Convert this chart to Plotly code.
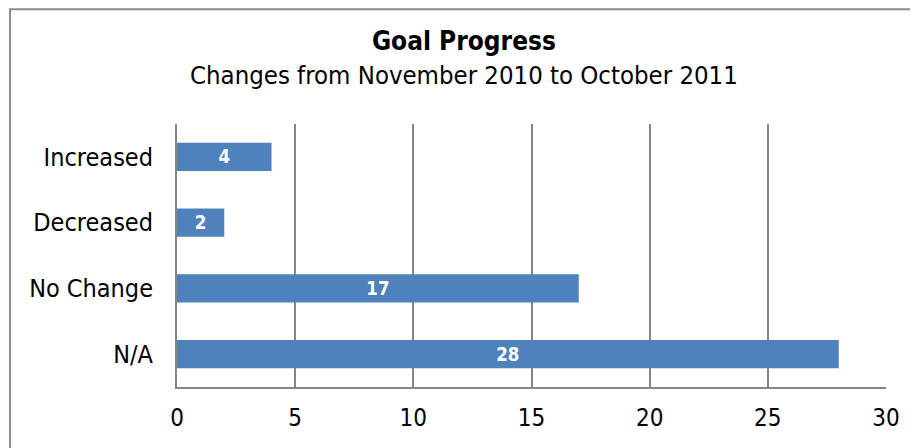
import plotly.graph_objects as go

categories = ["N/A", "No Change", "Decreased", "Increased"]
counts = [28, 17, 2, 4]
x_ticks = [0, 5, 10, 15, 20, 25, 30]

FONT = "DejaVu Sans Condensed, DejaVu Sans, sans-serif"
GRID = "#868686"

fig = go.Figure()
fig.add_trace(go.Bar(
    y=categories, x=counts, orientation="h",
    marker=dict(color="#4F81BD", line=dict(width=0)),
    text=[str(c) for c in counts], textposition="inside",
    insidetextanchor="middle", textangle=0,
    textfont=dict(color="white", size=20, family=FONT, weight="bold"),
    width=0.43,
))

# outer chart border (figure sits 8px in from the page corner)
fig.add_shape(type="rect", xref="paper", yref="paper",
              x0=-0.2355, x1=1.2, y0=-0.4, y1=1.436,
              line=dict(color="#8c8c8c", width=2), fillcolor="rgba(0,0,0,0)")

fig.update_layout(
    width=910, height=440,
    margin=dict(l=169, r=32, t=116, b=61),
    paper_bgcolor="white", plot_bgcolor="white",
    showlegend=False,
    font=dict(family=FONT, color="black"),
    title=dict(
        text="<b>Goal Progress</b><br><span style='font-size:25.5px'>Changes from November 2010 to October 2011</span>",
        x=0.501, xanchor="center", xref="container",
        y=0.905, yanchor="top", yref="container",
        font=dict(size=26, family=FONT),
    ),
    xaxis=dict(
        range=[0, 30], tickvals=x_ticks, showgrid=True,
        gridcolor=GRID, gridwidth=1.5, zeroline=False,
        showline=True, linecolor=GRID, linewidth=2,
        tickfont=dict(size=24), ticklabelstandoff=8, fixedrange=True,
    ),
    yaxis=dict(
        showgrid=False, zeroline=False,
        showline=True, linecolor=GRID, linewidth=2,
        tickfont=dict(size=25), ticklabelstandoff=17,
    ),
)

fig.write_html("out.html")
